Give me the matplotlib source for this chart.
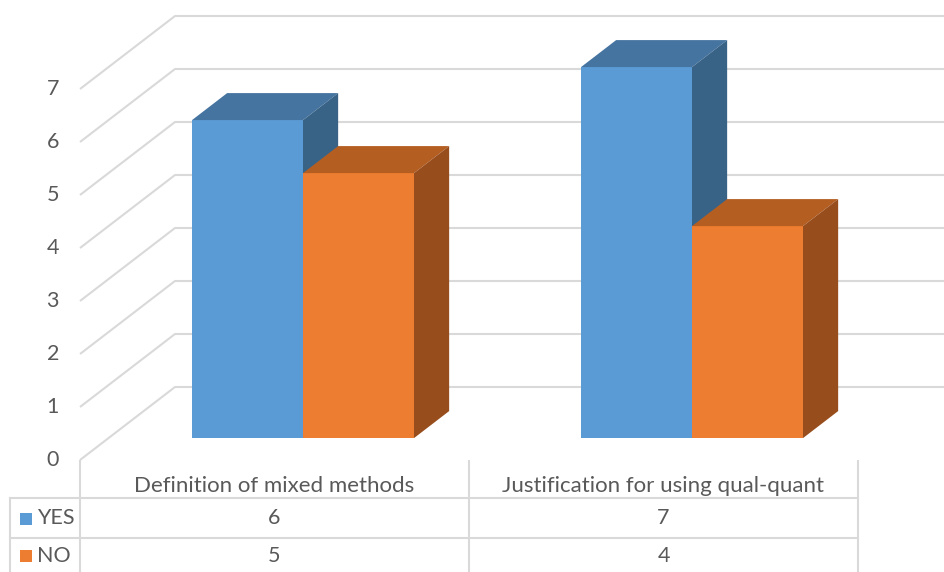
import matplotlib
matplotlib.use("Agg")
import matplotlib.pyplot as plt
from matplotlib.patches import Polygon

# ---- data ----
categories = ["Definition of mixed methods", "Justification for using qual-quant"]
series_names = ["YES", "NO"]
yes_values = [6, 7]
no_values = [5, 4]
y_ticks = [0, 1, 2, 3, 4, 5, 6, 7]

# ---- styling ----
front_colors = {"YES": "#5B9BD5", "NO": "#ED7D31"}
top_colors = {"YES": "#4674A0", "NO": "#B55E22"}
side_colors = {"YES": "#386387", "NO": "#984D1C"}
grid_color = "#D9D9D9"
text_color = "#595959"
FONT = "Lato"
FS = 15.5

W, H = 944, 572
fig = plt.figure(figsize=(W / 100, H / 100), dpi=100)
ax = fig.add_axes([0, 0, 1, 1])
ax.set_axis_off()

# axes scale: one category = 389 px, one value unit = 53 px
cat_px, val_px = 389.0, 53.0
x0_px, y0_px = 80.0, 460.0  # front-left corner of floor (px from top-left)
ax.set_xlim(-x0_px / cat_px, (W - x0_px) / cat_px)
ax.set_ylim(-(H - y0_px) / val_px, y0_px / val_px)

# oblique depth vector of the whole floor, in data units
DX = 95.0 / cat_px
DY = 73.0 / val_px
front_frac = 0.30   # bars start this far into the depth
depth_frac = 0.37   # bar depth as fraction of floor depth
bar_w = 111.0 / cat_px

# back and side wall gridlines
right_edge = ax.get_xlim()[1]
for v in y_ticks:
    ax.plot([0, DX, right_edge], [v, v + DY, v + DY], color=grid_color,
            lw=1.5, zorder=1, solid_capstyle="butt")
    ax.text(-21 / cat_px, v, str(v), ha="right", va="center",
            fontsize=FS, color=text_color, family=FONT)

# 3D columns
fx = front_frac * DX
fy = front_frac * DY
dx = depth_frac * DX
dy = depth_frac * DY
for i, cat in enumerate(categories):
    center = i + 0.5 + fx
    for j, (name, vals) in enumerate([("YES", yes_values), ("NO", no_values)]):
        left = center - bar_w + j * bar_w
        v = vals[i]
        ax.bar(left, v, width=bar_w, bottom=fy, align="edge",
               color=front_colors[name], linewidth=0, zorder=3 + i * 10 + j * 3)
        top = fy + v
        ax.add_patch(Polygon([(left, top), (left + bar_w, top),
                              (left + bar_w + dx, top + dy), (left + dx, top + dy)],
                             closed=True, facecolor=top_colors[name], lw=0,
                             zorder=4 + i * 10 + j * 3))
        r = left + bar_w
        ax.add_patch(Polygon([(r, fy), (r + dx, fy + dy), (r + dx, top + dy), (r, top)],
                             closed=True, facecolor=side_colors[name], lw=0,
                             zorder=4 + i * 10 + j * 3))

# data table below the plot
def py(px):
    return (y0_px - px) / val_px

def pxx(px):
    return (px - x0_px) / cat_px

row_line_1 = py(498)
row_line_2 = py(537.5)
bottom = py(580)
lw = 1.5
for xe in [0, 1, 2]:
    ax.plot([xe, xe], [0, bottom], color=grid_color, lw=lw, zorder=1,
            solid_capstyle="butt")
ax.plot([pxx(10), pxx(10)], [row_line_1, bottom], color=grid_color, lw=lw, zorder=1)
for yl in [row_line_1, row_line_2]:
    ax.plot([pxx(10), 2], [yl, yl], color=grid_color, lw=lw, zorder=1)

for i, cat in enumerate(categories):
    ax.text(i + 0.5, py(486), cat, ha="center", va="center",
            fontsize=16, color=text_color, family=FONT)
    ax.text(i + 0.5, py(518.5), str(yes_values[i]), ha="center", va="center",
            fontsize=FS, color=text_color, family=FONT)
    ax.text(i + 0.5, py(556), str(no_values[i]), ha="center", va="center",
            fontsize=FS, color=text_color, family=FONT)

for name, yc in [("YES", 518.5), ("NO", 556)]:
    ax.add_patch(Polygon([(pxx(20), py(yc - 6)), (pxx(32), py(yc - 6)),
                          (pxx(32), py(yc + 6)), (pxx(20), py(yc + 6))],
                         closed=True, facecolor=front_colors[name], lw=0, zorder=5))
    ax.text(pxx(37), py(yc), name, ha="left", va="center",
            fontsize=FS, color=text_color, family=FONT)

fig.savefig("out.png", dpi=100)
